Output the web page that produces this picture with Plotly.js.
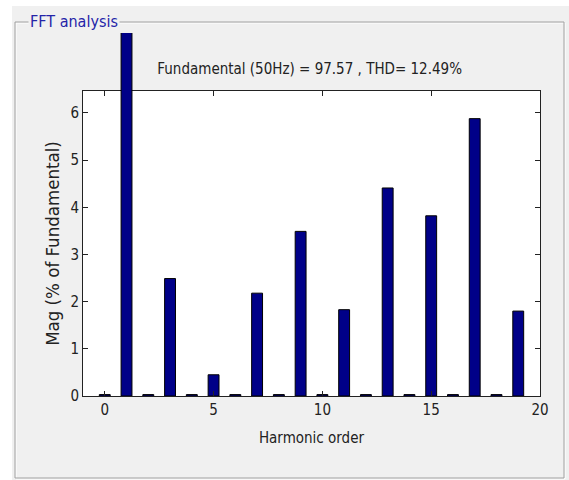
<!DOCTYPE html>
<html>
<head>
<meta charset="utf-8">
<script src="https://cdn.plot.ly/plotly-3.0.1.min.js"></script>
<style>html,body{margin:0;padding:0;background:#fff;}#chart{width:569px;height:480px;}</style>
</head>
<body>
<div id="chart"></div>
<script>
// Data
var harmonics = [0, 1, 2, 3, 4, 5, 6, 7, 8, 9, 10, 11, 12, 13, 14, 15, 16, 17, 18, 19];
var magnitudes = [0.03, 100, 0.03, 2.49, 0.03, 0.45, 0.03, 2.18, 0.03, 3.49, 0.03, 1.83, 0.03, 4.41, 0.03, 3.82, 0.03, 5.88, 0.03, 1.80];
var xTicks = [0, 5, 10, 15, 20];
var yTicks = [0, 1, 2, 3, 4, 5, 6];
var titleText = 'Fundamental (50Hz) = 97.57 , THD= 12.49%';
var panelTitle = 'FFT analysis';
var xTitle = 'Harmonic order';
var yTitle = 'Mag (% of Fundamental)';

var W = 569, H = 480;
var FONT = '"DejaVu Sans Condensed", "Liberation Sans Narrow", "Liberation Sans", Arial, sans-serif';

var mL = 83, mR = 29, mT = 33, mB = 84;
var plotW = W - mL - mR;
var plotH = H - mT - mB;
// pixel -> paper (plot-area relative) coordinates
var px = function (v) { return (v - mL) / plotW; };
var py = function (v) { return (H - mB - v) / plotH; };

var mainTopPx = 91;
var pxPerUnit = 47.17;
var dSplit = (H - mB - mainTopPx) / plotH;
var yMainMax = (H - mB - mainTopPx) / pxPerUnit;
var yTopMax = yMainMax + (mainTopPx - mT) / pxPerUnit;

var barColor = '#000088';

var traces = [
  {
    type: 'bar', x: harmonics, y: magnitudes, xaxis: 'x', yaxis: 'y',
    width: 0.5,
    marker: { color: barColor, line: { color: '#000000', width: 1 } },
    hoverinfo: 'skip'
  },
  {
    type: 'bar', x: [harmonics[1]], y: [magnitudes[1]], xaxis: 'x', yaxis: 'y2',
    width: 0.5,
    marker: { color: barColor, line: { color: '#000000', width: 1 } },
    hoverinfo: 'skip'
  }
];

var axisColor = '#222222';
var layout = {
  width: W, height: H,
  paper_bgcolor: '#f0f0f0',
  plot_bgcolor: 'rgba(0,0,0,0)',
  showlegend: false,
  margin: { l: mL, r: mR, t: mT, b: mB, pad: 0 },
  font: { family: FONT, size: 15, color: axisColor },
  title: {
    text: titleText,
    font: { family: FONT, size: 15, color: '#222222' },
    xref: 'paper', x: 0.496, xanchor: 'center',
    yref: 'container', y: 1 - 69 / H, yanchor: 'middle'
  },
  xaxis: {
    range: [-1, 20], anchor: 'y',
    tickvals: xTicks, ticktext: xTicks.map(String),
    ticks: 'inside', ticklen: 5, tickcolor: axisColor, tickwidth: 1,
    showline: true, linecolor: axisColor, linewidth: 1, mirror: 'ticks',
    showgrid: false, zeroline: false,
    tickfont: { family: FONT, size: 15, color: axisColor },
    title: { text: xTitle, font: { family: FONT, size: 15, color: axisColor }, standoff: 14 }
  },
  yaxis: {
    domain: [0, dSplit], range: [0, yMainMax], anchor: 'x',
    tickvals: yTicks, ticktext: yTicks.map(String),
    ticks: 'inside', ticklen: 5, tickcolor: axisColor, tickwidth: 1,
    showline: true, linecolor: axisColor, linewidth: 1, mirror: 'ticks',
    showgrid: false, zeroline: false,
    tickfont: { family: FONT, size: 15, color: axisColor },
    title: { text: yTitle, font: { family: FONT, size: 18.5, color: axisColor }, standoff: 5 }
  },
  yaxis2: {
    domain: [dSplit, 1], range: [yMainMax, yTopMax], anchor: 'x',
    visible: false, showgrid: false, zeroline: false
  },
  shapes: [
    // white plot background of main axes
    { type: 'rect', xref: 'x domain', yref: 'y domain', x0: 0, x1: 1, y0: 0, y1: 1,
      fillcolor: '#ffffff', line: { width: 0 }, layer: 'below' },
    // white strips at image edges
    { type: 'rect', xref: 'paper', yref: 'paper', x0: px(0), x1: px(12), y0: py(480), y1: py(0),
      fillcolor: '#ffffff', line: { width: 0 }, layer: 'below' },
    { type: 'rect', xref: 'paper', yref: 'paper', x0: px(0), x1: px(569), y0: py(6), y1: py(0),
      fillcolor: '#ffffff', line: { width: 0 }, layer: 'below' },
    // panel etched border (white highlight + gray line)
    { type: 'rect', xref: 'paper', yref: 'paper', x0: px(16), x1: px(565), y0: py(479), y1: py(23),
      fillcolor: 'rgba(0,0,0,0)', line: { color: '#ffffff', width: 1 }, layer: 'below' },
    { type: 'rect', xref: 'paper', yref: 'paper', x0: px(15), x1: px(564), y0: py(478), y1: py(22),
      fillcolor: 'rgba(0,0,0,0)', line: { color: '#a0a0a0', width: 1 }, layer: 'below' }
  ],
  annotations: [
    { text: panelTitle, xref: 'paper', yref: 'paper', x: px(28), y: py(21), xanchor: 'left', yanchor: 'middle',
      showarrow: false, bgcolor: '#f0f0f0', borderpad: 1,
      font: { family: FONT, size: 16, color: '#2424a8' } }
  ]
};

Plotly.newPlot('chart', traces, layout, { staticPlot: true, displayModeBar: false });
</script>
</body>
</html>
